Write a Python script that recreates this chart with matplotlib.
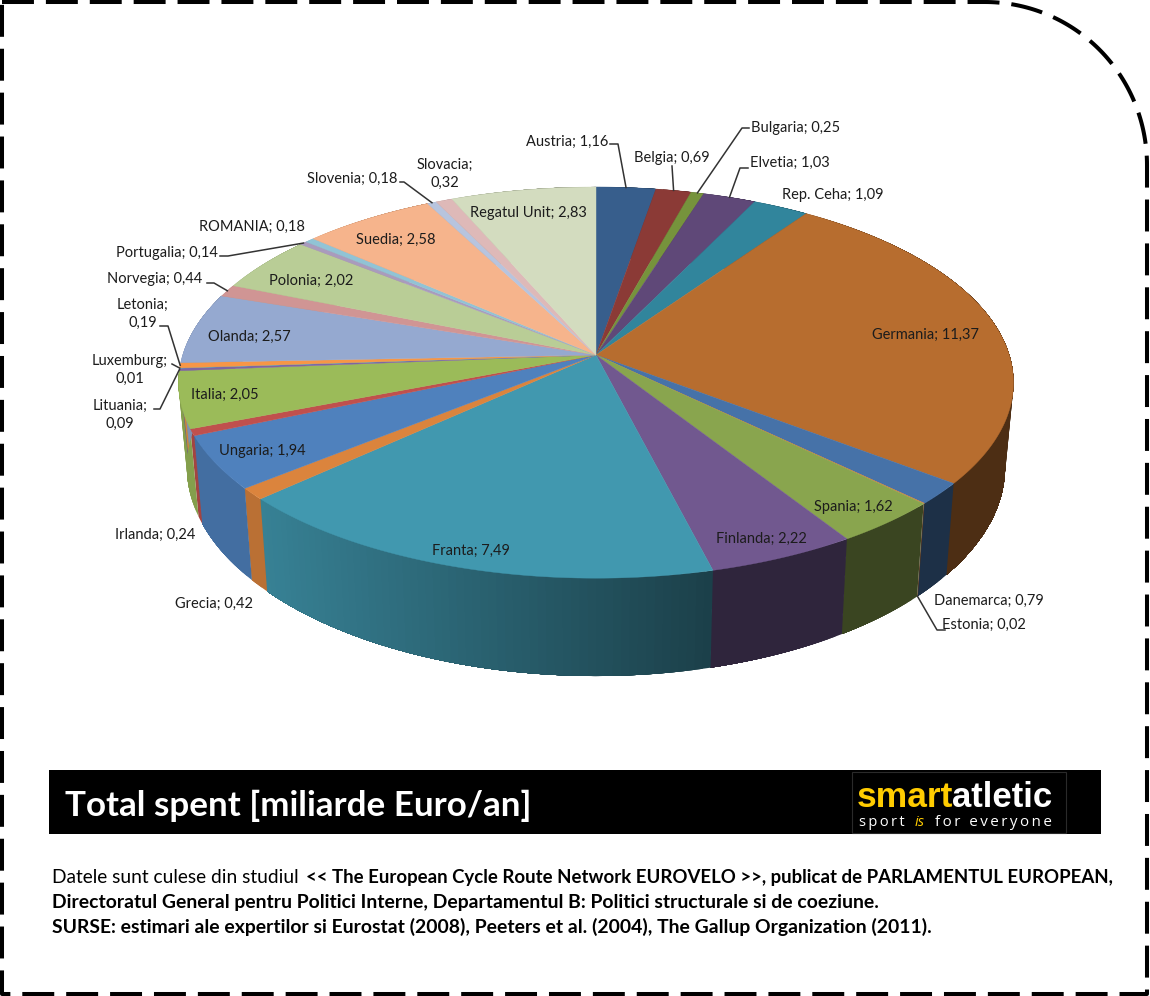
import numpy as np
import matplotlib
matplotlib.use("Agg")
import matplotlib.pyplot as plt
from matplotlib.collections import PolyCollection
from matplotlib.patches import Rectangle

plt.rcParams['font.family'] = ['Lato', 'DejaVu Sans']
plt.rcParams['lines.scale_dashes'] = False

# ---- data -------------------------------------------------------------
countries = ['Austria', 'Belgia', 'Bulgaria', 'Elvetia', 'Rep. Ceha', 'Germania', 'Danemarca',
             'Estonia', 'Spania', 'Finlanda', 'Franta', 'Grecia', 'Ungaria', 'Irlanda', 'Italia',
             'Lituania', 'Luxemburg', 'Letonia', 'Olanda', 'Norvegia', 'Polonia', 'Portugalia',
             'ROMANIA', 'Suedia', 'Slovenia', 'Slovacia', 'Regatul Unit']
values = [1.16, 0.69, 0.25, 1.03, 1.09, 11.37, 0.79, 0.02, 1.62, 2.22, 7.49, 0.42, 1.94, 0.24,
          2.05, 0.09, 0.01, 0.19, 2.57, 0.44, 2.02, 0.14, 0.18, 2.58, 0.18, 0.32, 2.83]
colors = ['#375e8c', '#8b3a36', '#76933c', '#5f4878', '#31859c', '#b76d2f', '#4672a8',
          '#db843d', '#89a54e', '#71588f', '#4198af', '#db843d', '#4f81bd', '#c0504d', '#9bbb59',
          '#8064a2', '#4bacc6', '#f79646', '#95a9d0', '#d09594', '#b9cd96', '#a99bbd',
          '#91c3d5', '#f6b48c', '#b7c4de', '#deb9b8', '#d3dcbf']
# label centre (x, y) in figure pixels, and whether the value wraps to a second line
label_pos = {
    'Austria': (567, 142), 'Belgia': (672, 158), 'Bulgaria': (796, 128), 'Elvetia': (790, 163),
    'Rep. Ceha': (833, 195), 'Germania': (925, 335), 'Danemarca': (989, 601), 'Estonia': (984, 625),
    'Spania': (853, 507), 'Finlanda': (761, 539), 'Franta': (471, 551), 'Grecia': (214, 604),
    'Ungaria': (262, 451), 'Irlanda': (155, 535), 'Italia': (225, 395), 'Lituania': (120, 415),
    'Luxemburg': (130, 370), 'Letonia': (143, 314), 'Olanda': (249, 337), 'Norvegia': (155, 279),
    'Polonia': (311, 281), 'Portugalia': (167, 253), 'ROMANIA': (252, 227), 'Suedia': (396, 240),
    'Slovenia': (352, 179), 'Slovacia': (445, 174), 'Regatul Unit': (528, 213)}
wrapped = ['Lituania', 'Luxemburg', 'Letonia', 'Slovacia']
# leader elbows in pixels; the last point is the slice's rim
leaders = {
    'Austria': [(610, 144), (618, 144)], 'Belgia': [(672, 166)], 'Bulgaria': [(749, 128), (742, 128)],
    'Elvetia': [(748, 168), (740, 168)], 'Slovenia': [(400, 182), (404, 182)],
    'Portugalia': [(220, 256), (228, 256)], 'Norvegia': [(207, 283), (214, 283)],
    'Letonia': [(160, 326), (168, 326)], 'Luxemburg': [(172, 364)], 'Lituania': [(154, 409), (160, 409)],
    'Estonia': [(945, 630), (937, 630)]}

# ---- projection of the pie (perspective circle) ------------------------
CX, CY, RX, RY, K = 596.0, 355.0, 413.3, 191.7, 0.141
BX, BY, BR = 0.98, 437.5, 204.9


def top(theta):
    s, c = np.sin(theta), np.cos(theta)
    d = 1 + K * c
    return CX + RX * s / d, CY - RY * c / d


def bottom(theta):
    s, c = np.sin(theta), np.cos(theta)
    d = 1 + K * c
    return CX + BX * RX * s / d, BY - BR * c / d


def shade(x):
    f = 0.85 - 0.43 * (x - 260) / (712 - 260)
    return float(np.clip(f, 0.42, 0.85))


vals = np.array(values)
edges = np.concatenate([[0], np.cumsum(vals)]) / vals.sum() * 2 * np.pi

fig = plt.figure(figsize=(11.5, 9.96), dpi=100)
ax = fig.add_axes([0, 0, 1, 1])
ax.set_xlim(0, 1150)
ax.set_ylim(996, 0)
ax.axis('off')

# walls: each strip reaches to the far end of its slice, so no seams show
zw = 2
for i in np.arange(len(colors)):
    a0, a1 = edges[i], edges[i + 1]
    n = max(2, int((a1 - a0) / np.radians(1.0)) + 1)
    th = np.linspace(a0, a1, n)
    rgb = np.array(matplotlib.colors.to_rgb(colors[i]))
    polys, cols = [], []
    for t0, t1 in zip(th[:-1], th[1:]):
        arc_t = np.linspace(t0, a1, 40)
        xt, yt = top(arc_t)
        xb, yb = bottom(arc_t)
        polys.append(np.c_[np.r_[xt, xb[::-1]], np.r_[yt, yb[::-1]]])
        cols.append(rgb * shade((top(t0)[0] + top(t1)[0]) / 2))
    ax.add_collection(PolyCollection(polys, facecolors=cols, edgecolors='none', linewidths=0, zorder=zw))

# top faces
for i, col in enumerate(colors):
    th = np.linspace(edges[i], edges[i + 1], max(3, int((edges[i + 1] - edges[i]) / np.radians(0.5))))
    xs, ys = top(th)
    ax.fill(np.r_[CX, xs], np.r_[CY, ys], facecolor=col, edgecolor=col, linewidth=0.3, zorder=3)

# leader lines
for name, pts in leaders.items():
    i = countries.index(name)
    mid = (edges[i] + edges[i + 1]) / 2
    end = bottom(mid) if name == 'Estonia' else top(mid)
    xs = [p[0] for p in pts] + [end[0]]
    ys = [p[1] for p in pts] + [end[1]]
    ax.plot(xs, ys, color='#333333', lw=1.1, zorder=4, solid_joinstyle='round')

# labels
for name, val in zip(countries, values):
    sval = f'{val:.2f}'.replace('.', ',')
    sep = ';\n' if name in wrapped else '; '
    x, y = label_pos[name]
    ax.text(x, y, name + sep + sval, ha='center', va='center', fontsize=10.5, color='#1c1c1c',
            linespacing=1.39, zorder=5)

# dashed frame
arc = np.linspace(np.pi / 2, 0, 80)
fx = np.r_[2, 985, 985 + 162 * np.cos(arc), 1147, 2, 2]
fy = np.r_[2, 2, 165 - 163 * np.sin(arc), 994, 994, 2]
ax.plot(fx, fy, color='black', lw=2.9, linestyle=(0, (23, 8.6)), zorder=1, solid_capstyle='butt',
        dash_capstyle='butt', clip_on=False)

# banner
ax.add_patch(Rectangle((49, 770), 1052, 64, facecolor='black', edgecolor='none', zorder=6))
ax.add_patch(Rectangle((852, 772), 214, 61, facecolor='black', edgecolor='#2a2a2a', lw=0.8, zorder=6))
ax.text(65, 806, 'Total spent [miliarde Euro/an]', color='white', fontsize=25.2, fontweight='bold',
        va='center', ha='left', zorder=7)
ax.text(857, 807, 'smart', color='#ffcc00', fontsize=25.5, fontweight='bold', va='baseline', ha='left',
        family='Liberation Sans', zorder=7)
ax.text(952, 807, 'atletic', color='white', fontsize=25, fontweight='bold', va='baseline', ha='left',
        family='Liberation Sans', zorder=7)
ts = '\u2009'
ax.text(859, 822, ts.join('sport'), color='white', fontsize=10.5, va='center', ha='left',
        family=['Open Sans', 'DejaVu Sans'], zorder=7)
ax.text(915, 822, 'is', color='#ffcc00', fontsize=10.5, style='italic', va='center', ha='left',
        family=['Open Sans', 'DejaVu Sans'], zorder=7)
ax.text(935, 822, ts.join('for everyone'), color='white', fontsize=10.9, va='center', ha='left',
        family=['Open Sans', 'DejaVu Sans'], zorder=7)

# note
ax.text(52, 877, 'Datele sunt culese din studiul', fontsize=13.8, color='black', va='center', ha='left')
ax.text(306, 877, '<< The European Cycle Route Network EUROVELO >>, publicat de PARLAMENTUL EUROPEAN,',
        fontsize=13.4, fontweight='bold', color='black', va='center', ha='left')
ax.text(52, 902, 'Directoratul General pentru Politici Interne, Departamentul B: Politici structurale si de coeziune.',
        fontsize=13.97, fontweight='bold', color='black', va='center', ha='left')
ax.text(52, 927, 'SURSE: estimari ale expertilor si Eurostat (2008), Peeters et al. (2004), The Gallup Organization (2011).',
        fontsize=13.95, fontweight='bold', color='black', va='center', ha='left')

fig.savefig('out.png', dpi=100, facecolor='white')
